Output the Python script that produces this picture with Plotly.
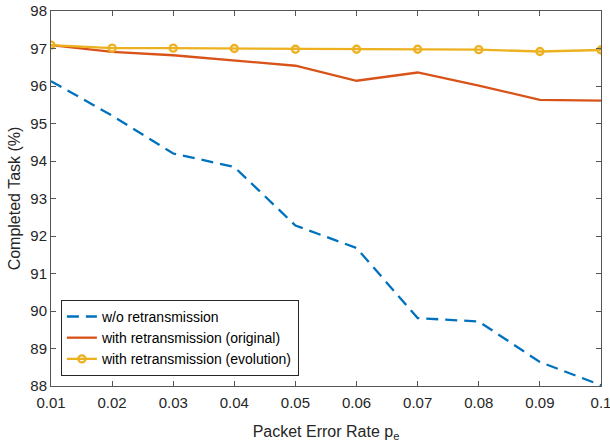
import plotly.graph_objects as go

per = [0.01, 0.02, 0.03, 0.04, 0.05, 0.06, 0.07, 0.08, 0.09, 0.10]
wo_retx = [96.13, 95.21, 94.20, 93.84, 92.28, 91.68, 89.81, 89.72, 88.64, 88.02]
retx_orig = [97.09, 96.91, 96.82, 96.68, 96.54, 96.14, 96.36, 96.01, 95.63, 95.61]
retx_evol = [97.09, 97.01, 97.01, 97.00, 96.98, 96.98, 96.98, 96.97, 96.92, 96.96]

names = ["w/o retransmission", "with retransmission (original)", "with retransmission (evolution)"]
x_ticks = [0.01, 0.02, 0.03, 0.04, 0.05, 0.06, 0.07, 0.08, 0.09, 0.1]
x_tick_labels = ["0.01", "0.02", "0.03", "0.04", "0.05", "0.06", "0.07", "0.08", "0.09", "0.1"]
y_ticks = [88, 89, 90, 91, 92, 93, 94, 95, 96, 97, 98]

FONT = "Liberation Sans, Arial, Helvetica, sans-serif"

fig = go.Figure()
fig.add_trace(go.Scatter(x=per, y=wo_retx, mode="lines", name=names[0],
                         line=dict(color="#0072BD", width=2.3, dash="12px,7px")))
fig.add_trace(go.Scatter(x=per, y=retx_orig, mode="lines", name=names[1],
                         line=dict(color="#D95319", width=2.3)))
fig.add_trace(go.Scatter(x=per, y=retx_evol, mode="lines+markers", name=names[2],
                         line=dict(color="#EDB120", width=2.3),
                         marker=dict(symbol="circle-open", size=7, color="#EDB120",
                                     line=dict(width=2.3, color="#EDB120"))))

axis_common = dict(showline=True, linecolor="#555555", linewidth=1, mirror="ticks",
                   ticks="inside", ticklen=5, tickcolor="#555555", tickwidth=1,
                   showgrid=False, zeroline=False, automargin=False,
                   ticklabeloverflow="allow",
                   tickfont=dict(family=FONT, size=15, color="#262626"))

fig.update_xaxes(range=[0.01, 0.1], tickvals=x_ticks, ticktext=x_tick_labels,
                 ticklabelstandoff=3,
                 title=dict(text="Packet Error Rate p<sub>e</sub>",
                            font=dict(family=FONT, size=16, color="#262626")),
                 **axis_common)
fig.update_yaxes(range=[88, 98], tickvals=y_ticks,
                 title=dict(text="Completed Task (%)", standoff=5,
                            font=dict(family=FONT, size=16, color="#262626")),
                 **axis_common)

fig.update_layout(
    width=610, height=443,
    margin=dict(l=51, r=9, t=11, b=57),
    paper_bgcolor="white", plot_bgcolor="white",
    showlegend=True,
    legend=dict(x=0.018, y=0.027, xanchor="left", yanchor="bottom",
                bgcolor="white", bordercolor="#262626", borderwidth=1,
                font=dict(family=FONT, size=14, color="#000000"),
                tracegroupgap=0, itemwidth=30),
)

fig.write_html("out.html", config={"displayModeBar": False},
               post_script="document.body.style.margin='0';")
